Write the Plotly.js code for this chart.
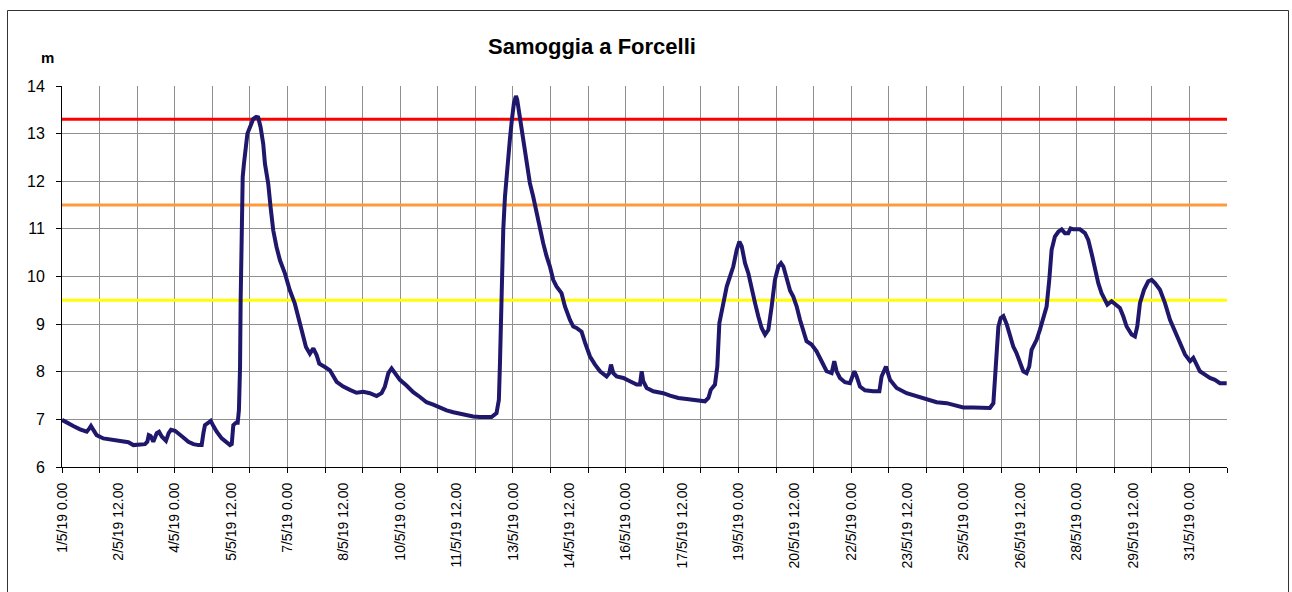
<!DOCTYPE html>
<html>
<head>
<meta charset="utf-8">
<script src="https://cdn.plot.ly/plotly-3.0.1.min.js"></script>
<style>
  html, body { margin: 0; padding: 0; background: #fff; }
  #chart { width: 1292px; height: 592px; }
</style>
</head>
<body>
<div id="chart"></div>
<script>
// ---- Data ----
const chartTitle = 'Samoggia a Forcelli';
const yUnit = 'm';

// hours elapsed since 1/5/19 0.00
const hours = [
  0, 3, 7.2, 11.5, 15.8, 17.5, 18.5, 20, 22.1, 26.4, 30.7, 34.9, 39.2, 42.4, 45.6, 48.8,
  53, 54.5, 55.4, 56.6, 58.3, 60.5, 62, 63.7, 66.4, 68.1, 69.6, 72.2, 74.3, 77.5, 80.7,
  83.9, 87.1, 89.2, 90.3, 91.3, 93.5, 95, 96.7, 98.8, 102, 105.2, 107.3, 108.4, 109.4,
  111.1, 112.2, 113, 113.7, 114.1, 114.8, 115.4, 116.2, 117.1, 118.4, 120.1, 122.2, 124,
  125.3, 126.8, 128.5, 129.6, 131.7, 133.2, 134.9, 137, 139.2, 142.4, 145.5, 148.7, 150.9,
  153, 155.8, 158.3, 160.5, 162.6, 164.3, 167.9, 171.1, 175.4, 179.6, 183.9, 188.1, 192.4,
  196.6, 200.9, 204.1, 206.2, 208.4, 210.5, 212.6, 215.8, 220, 224.3, 228.6, 232.8, 237.1,
  241.3, 245.6, 249.9, 254.1, 258.4, 262.6, 266.9, 271.1, 274.3, 277.5, 279, 279.7, 280.7,
  281.8, 282.9, 284.3, 286, 287.3, 288.6, 289.9, 290.7, 292, 293.5, 295, 296.7, 298.8,
  300.9, 303.1, 305.2, 307.3, 309.5, 311.6, 313.7, 315.8, 319, 321.2, 324.4, 326.5, 328.6,
  331.8, 333.9, 337.2, 340.4, 343.6, 347.8, 349.5, 350.6, 352.1, 354.2, 358.5, 362.7, 367,
  369.1, 370.2, 371.2, 373.4, 377.6, 384, 388.3, 393.6, 398.9, 405.3, 410.6, 412.8, 414.3,
  417, 418.5, 419.8, 422.3, 424.5, 426.6, 428.7, 430.9, 432.6, 434.1, 436.2, 438.3, 440.4,
  442.6, 444.7, 446.8, 449, 451.1, 453.2, 455.3, 457.5, 459.2, 460.7, 462.8, 465, 467,
  469.2, 471.3, 473.4, 475.5, 478.7, 481.9, 485.1, 488.3, 491.5, 493.2, 494.7, 496.8, 500,
  503.2, 506, 507.5, 509.6, 512.8, 518.1, 522, 523.4, 526.2, 528.8, 533, 539.4, 545.8,
  552.2, 558.6, 565, 571.4, 575.6, 582, 588.4, 592.6, 594.8, 596.5, 598, 599.5, 601.2,
  603.3, 605.4, 607.5, 609.6, 611.8, 613.9, 616, 617.7, 619.2, 622.4, 624.5, 626.7, 628.8,
  630.5, 632, 634.1, 636.3, 638.4, 640.5, 642.6, 644.1, 645.8, 650.1, 653.3, 655.4, 657.5,
  659.7, 661.8, 663.9, 666.1, 667.6, 670.3, 673.5, 675.6, 677.8, 679.9, 683.1, 685.2, 686.7,
  688.4, 691, 693.7, 695.9, 698, 701.2, 704.4, 707.6, 710.8, 714, 717.2, 720.4, 722.5,
  724.6, 726.7, 729.9, 733.1, 736.3, 739.5, 743.8
];

// water level (m)
const level = [
  6.99, 6.93, 6.86, 6.79, 6.74, 6.81, 6.86, 6.78, 6.67, 6.60, 6.58, 6.57, 6.55, 6.52, 6.46, 6.46,
  6.48, 6.53, 6.67, 6.65, 6.53, 6.71, 6.74, 6.64, 6.55, 6.71, 6.78, 6.76, 6.71, 6.62, 6.53,
  6.48, 6.46, 6.46, 6.71, 6.88, 6.93, 6.97, 6.86, 6.74, 6.60, 6.50, 6.46, 6.48, 6.88,
  6.93, 6.93, 7.20, 8.10, 9.50, 10.90, 12.09, 12.37, 12.72, 13.00, 13.14, 13.31, 13.35,
  13.34, 13.14, 12.79, 12.37, 11.95, 11.46, 10.97, 10.62, 10.34, 10.06, 9.71, 9.43, 9.15,
  8.87, 8.52, 8.38, 8.49, 8.35, 8.17, 8.10, 8.03, 7.79, 7.69, 7.62, 7.56, 7.58,
  7.55, 7.49, 7.55, 7.69, 7.97, 8.07, 7.97, 7.83, 7.71, 7.57, 7.47, 7.36, 7.31,
  7.24, 7.19, 7.15, 7.12, 7.10, 7.06, 7.05, 7.04, 7.05, 7.13, 7.41, 8.18, 9.93,
  10.98, 11.68, 12.31, 12.87, 13.29, 13.64, 13.79, 13.71, 13.43, 13.08, 12.73, 12.31, 11.96,
  11.68, 11.33, 10.98, 10.70, 10.42, 10.21, 9.93, 9.79, 9.65, 9.37, 9.09, 8.95, 8.92,
  8.84, 8.62, 8.32, 8.15, 8.01, 7.90, 7.97, 8.15, 7.97, 7.90, 7.87, 7.80, 7.73,
  7.73, 8.01, 7.80, 7.66, 7.59, 7.55, 7.50, 7.45, 7.43, 7.41, 7.38, 7.45, 7.62,
  7.73, 8.11, 9.02, 9.44, 9.79, 10.00, 10.21, 10.56, 10.73, 10.63, 10.28, 10.07, 9.72,
  9.44, 9.16, 8.92, 8.78, 8.88, 9.37, 9.93, 10.21, 10.28, 10.21, 9.93, 9.70, 9.58,
  9.37, 9.09, 8.85, 8.64, 8.57, 8.43, 8.22, 8.01, 7.97, 8.22, 8.01, 7.87, 7.78,
  7.76, 8.01, 7.90, 7.69, 7.61, 7.59, 7.59, 7.90, 8.11, 7.83, 7.66, 7.55, 7.48,
  7.41, 7.36, 7.34, 7.29, 7.25, 7.25, 7.24, 7.24, 7.34, 8.11, 8.95, 9.13, 9.17,
  9.00, 8.74, 8.53, 8.39, 8.22, 8.01, 7.97, 8.11, 8.46, 8.67, 8.88, 9.16, 9.37,
  9.93, 10.56, 10.84, 10.94, 10.99, 10.91, 10.91, 11.01, 10.99, 10.99, 10.91, 10.77, 10.49,
  10.14, 9.86, 9.65, 9.48, 9.41, 9.48, 9.41, 9.34, 9.16, 8.95, 8.78, 8.74, 8.95,
  9.44, 9.72, 9.90, 9.93, 9.86, 9.72, 9.44, 9.09, 8.85, 8.60, 8.36, 8.22, 8.29,
  8.15, 8.01, 7.94, 7.87, 7.83, 7.76, 7.76
];

// alert thresholds (m)
const thresholdLevels = [13.3, 11.5, 9.5];

// x axis
const xStartHour = 0;
const xEndHour = 744;
const tickHours = [0, 36, 72, 108, 144, 180, 216, 252, 288, 324, 360, 396, 432, 468, 504, 540, 576, 612, 648, 684, 720];
const tickLabels = [
  '1/5/19 0.00', '2/5/19 12.00', '4/5/19 0.00', '5/5/19 12.00', '7/5/19 0.00',
  '8/5/19 12.00', '10/5/19 0.00', '11/5/19 12.00', '13/5/19 0.00', '14/5/19 12.00',
  '16/5/19 0.00', '17/5/19 12.00', '19/5/19 0.00', '20/5/19 12.00', '22/5/19 0.00',
  '23/5/19 12.00', '25/5/19 0.00', '26/5/19 12.00', '28/5/19 0.00', '29/5/19 12.00',
  '31/5/19 0.00'
];
const yMin = 6, yMax = 14;

// ---- Styles ----
const thresholdColors = ['#ff0000', '#ff9a3c', '#ffff00'];
const lineColor = '#1f176b';
const gridColor = '#8f8f8f';
const FONT = 'Arial, "Liberation Sans", sans-serif';

const traces = thresholdLevels.map((lv, i) => ({
  type: 'scatter', mode: 'lines',
  x: [xStartHour, xEndHour], y: [lv, lv],
  line: { color: thresholdColors[i], width: 3 },
  hoverinfo: 'skip', showlegend: false, xaxis: 'x', yaxis: 'y'
}));
traces.push({
  type: 'scatter', mode: 'lines',
  x: hours, y: level,
  line: { color: lineColor, width: 4, shape: 'linear' },
  showlegend: false, xaxis: 'x', yaxis: 'y'
});

const W = 1292, H = 592;
const L = 62, R = 65, T = 86, B = 125;
const pw = W - L - R, ph = H - T - B;
const px = v => (v - L) / pw;       // pixel -> paper x
const py = v => 1 + (T - v) / ph;   // pixel -> paper y

const layout = {
  width: W, height: H,
  margin: { l: L, r: R, t: T, b: B, pad: 0 },
  paper_bgcolor: '#ffffff', plot_bgcolor: '#ffffff',
  showlegend: false,
  font: { family: FONT, color: '#000000' },
  title: {
    text: '<b>' + chartTitle + '</b>',
    font: { family: FONT, size: 22, color: '#000000' },
    x: 592 / W, xref: 'container', xanchor: 'center',
    y: 1 - 46 / H, yref: 'container', yanchor: 'middle'
  },
  xaxis: {
    range: [xStartHour, xEndHour],
    tick0: 0, dtick: 24,
    showticklabels: false,
    ticks: 'outside', ticklen: 5, tickcolor: '#000', tickwidth: 1,
    showgrid: true, gridcolor: gridColor, gridwidth: 1,
    showline: true, linecolor: '#000', linewidth: 1,
    zeroline: false, fixedrange: true
  },
  xaxis2: {
    overlaying: 'x', anchor: 'y', side: 'bottom',
    range: [xStartHour, xEndHour],
    tickmode: 'array', tickvals: tickHours, ticktext: tickLabels,
    tickangle: -90, ticks: '',
    tickfont: { family: FONT, size: 14, color: '#000' },
    ticklabelstandoff: 12,
    showgrid: false, showline: false, zeroline: false, fixedrange: true
  },
  yaxis: {
    range: [yMin, yMax], dtick: 1, tick0: 0,
    ticks: 'outside', ticklen: 5, tickcolor: '#000', tickwidth: 1,
    tickfont: { family: FONT, size: 16, color: '#000' },
    ticklabelstandoff: 8,
    showgrid: true, gridcolor: gridColor, gridwidth: 1,
    showline: true, linecolor: '#000', linewidth: 1,
    zeroline: false, fixedrange: true
  },
  annotations: [{
    text: '<b>' + yUnit + '</b>',
    xref: 'paper', yref: 'paper',
    x: px(47.5), y: py(57.5), xanchor: 'center', yanchor: 'middle',
    showarrow: false,
    font: { family: FONT, size: 15, color: '#000' }
  }],
  shapes: [{
    type: 'rect', xref: 'paper', yref: 'paper',
    x0: px(7.5), x1: px(1288.5), y0: py(620), y1: py(10.5),
    line: { color: '#333333', width: 1 }, fillcolor: 'rgba(0,0,0,0)', layer: 'below'
  }]
};

// empty trace so that the label axis (xaxis2) is drawn
traces.push({
  type: 'scatter', mode: 'lines', x: [xStartHour, xEndHour], y: [null, null],
  xaxis: 'x2', yaxis: 'y', showlegend: false, hoverinfo: 'skip'
});

Plotly.newPlot('chart', traces, layout, { displayModeBar: false, staticPlot: true });
</script>
</body>
</html>
